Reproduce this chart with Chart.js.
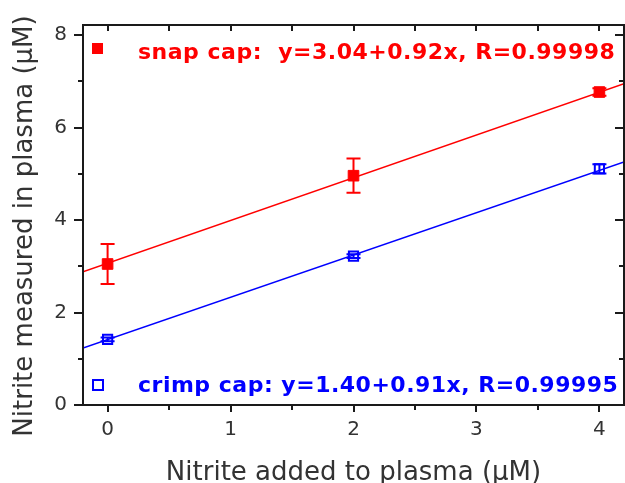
<!DOCTYPE html>
<html>
<head>
<meta charset="utf-8">
<script src="https://cdn.jsdelivr.net/npm/chart.js@4.4.1/dist/chart.umd.min.js"></script>
<style>
  body { margin: 0; background: #fff; }
  canvas { display: block; }
</style>
</head>
<body>
<canvas id="nitriteChart" width="625" height="483"></canvas>
<script>
// values
const addedNitrite = [0, 2, 4];
const snapMeasured = [3.05, 4.96, 6.77];
const snapError = [0.43, 0.37, 0.08];
const crimpMeasured = [1.42, 3.22, 5.11];
const crimpError = [0.04, 0.04, 0.1];

// fit lines, ends at the plot edges
const fitX = [-0.2, 4.2];
const snapFitY = [2.88, 6.95];
const crimpFitY = [1.23, 5.26];

const xTicks = [0, 1, 2, 3, 4];
const xMinorTicks = [0.5, 1.5, 2.5, 3.5];
const yTicks = [0, 2, 4, 6, 8];
const yMinorTicks = [1, 3, 5, 7];

const snapLabel = "snap cap:  y=3.04+0.92x, R=0.99998";
const crimpLabel = "crimp cap: y=1.40+0.91x, R=0.99995";
const xTitle = "Nitrite added to plasma (\u00b5M)";
const yTitle = "Nitrite measured in plasma (\u00b5M)";

const red = "#ff0000";
const blue = "#0000ff";

function toPoints(xs, ys) {
    return xs.map((x, i) => ({ x: x, y: ys[i] }));
}

// error bars under the markers
const errorBars = {
    id: "errorBars",
    beforeDatasetsDraw(chart) {
        const ctx = chart.ctx;
        const x = chart.scales.x;
        const y = chart.scales.y;
        chart.data.datasets.forEach((ds) => {
            if (!ds.errors) return;
            ctx.save();
            ctx.strokeStyle = ds.borderColor;
            ctx.lineWidth = 2;
            ds.data.forEach((p, i) => {
                const px = x.getPixelForValue(p.x);
                const top = y.getPixelForValue(p.y + ds.errors[i]);
                const bot = y.getPixelForValue(p.y - ds.errors[i]);
                ctx.beginPath();
                ctx.moveTo(px, top);
                ctx.lineTo(px, bot);
                ctx.moveTo(px - 7, top);
                ctx.lineTo(px + 7, top);
                ctx.moveTo(px - 7, bot);
                ctx.lineTo(px + 7, bot);
                ctx.stroke();
            });
            ctx.restore();
        });
    }
};

// box frame with ticks, in and out like the original
const frame = {
    id: "frame",
    afterDatasetsDraw(chart) {
        const ctx = chart.ctx;
        const a = chart.chartArea;
        const x = chart.scales.x;
        const y = chart.scales.y;
        ctx.save();
        ctx.strokeStyle = "#1a1a1a";
        ctx.lineWidth = 2;
        ctx.strokeRect(a.left, a.top, a.right - a.left, a.bottom - a.top);
        ctx.beginPath();
        xTicks.concat(xMinorTicks).forEach((v) => {
            const px = Math.round(x.getPixelForValue(v));
            const len = xTicks.includes(v) ? 7 : 5;
            ctx.moveTo(px, a.bottom);
            ctx.lineTo(px, a.bottom + len);
            ctx.moveTo(px, a.top);
            ctx.lineTo(px, a.top + 6);
        });
        yTicks.concat(yMinorTicks).forEach((v) => {
            const py = Math.round(y.getPixelForValue(v));
            const len = yTicks.includes(v) ? 9 : 5;
            ctx.moveTo(a.left, py);
            ctx.lineTo(a.left - len, py);
            ctx.moveTo(a.right, py);
            ctx.lineTo(a.right - len, py);
        });
        ctx.stroke();

        // legend text inside the plot
        ctx.font = "bold 22px 'DejaVu Sans'";
        ctx.letterSpacing = "0.5px";
        ctx.textBaseline = "alphabetic";
        ctx.fillStyle = red;
        ctx.fillRect(a.left + 9, 43, 11, 11);
        ctx.fillText(snapLabel, a.left + 55, 59);
        ctx.strokeStyle = blue;
        ctx.strokeRect(a.left + 10, 380, 10, 10);
        ctx.fillStyle = blue;
        ctx.fillText(crimpLabel, a.left + 55, 392);

        // y title, set a bit below the middle as in the original
        ctx.letterSpacing = "0px";
        ctx.font = "26px 'DejaVu Sans'";
        ctx.fillStyle = "#333";
        ctx.textAlign = "center";
        ctx.translate(32, 226);
        ctx.rotate(-Math.PI / 2);
        ctx.fillText(yTitle, 0, 0);
        ctx.restore();
    }
};

const ctx = document.getElementById("nitriteChart").getContext("2d");
new Chart(ctx, {
    type: "scatter",
    data: {
        datasets: [
            {
                label: "snap cap fit",
                data: toPoints(fitX, snapFitY),
                showLine: true,
                borderColor: red,
                borderWidth: 1.5,
                pointRadius: 0
            },
            {
                label: "crimp cap fit",
                data: toPoints(fitX, crimpFitY),
                showLine: true,
                borderColor: blue,
                borderWidth: 1.5,
                pointRadius: 0
            },
            {
                label: "snap cap",
                data: toPoints(addedNitrite, snapMeasured),
                errors: snapError,
                pointStyle: "rect",
                pointRadius: 7.5,
                backgroundColor: red,
                borderColor: red,
                borderWidth: 1
            },
            {
                label: "crimp cap",
                data: toPoints(addedNitrite, crimpMeasured),
                errors: crimpError,
                pointStyle: "rect",
                pointRadius: 6.5,
                backgroundColor: "rgba(0,0,0,0)",
                borderColor: blue,
                borderWidth: 2
            }
        ]
    },
    options: {
        responsive: false,
        animation: false,
        devicePixelRatio: 1,
        layout: {
            autoPadding: false,
            padding: { top: 25, right: 1, left: 0, bottom: 0 }
        },
        plugins: {
            legend: { display: false },
            tooltip: { enabled: false }
        },
        scales: {
            x: {
                type: "linear",
                min: -0.2,
                max: 4.2,
                afterBuildTicks: (s) => { s.ticks = xTicks.map((v) => ({ value: v })); },
                afterFit: (s) => {
                    s.height = 78;
                    s.paddingLeft = 0;
                    s.paddingRight = 0;
                },
                grid: { display: false, drawTicks: false },
                border: { display: false },
                ticks: {
                    padding: 13,
                    color: "#333",
                    font: { family: "'DejaVu Sans'", size: 20 }
                },
                title: {
                    display: true,
                    text: xTitle,
                    color: "#333",
                    font: { family: "'DejaVu Sans'", size: 26, lineHeight: 1 },
                    padding: { top: 0, bottom: -3 }
                }
            },
            y: {
                type: "linear",
                min: 0,
                max: 8.22,
                afterBuildTicks: (s) => { s.ticks = yTicks.map((v) => ({ value: v })); },
                afterFit: (s) => {
                    s.width = 83;
                    s.paddingTop = 0;
                    s.paddingBottom = 0;
                },
                grid: { display: false, drawTicks: false },
                border: { display: false },
                ticks: {
                    padding: 16,
                    color: "#333",
                    font: { family: "'DejaVu Sans'", size: 20 }
                }
            }
        }
    },
    plugins: [errorBars, frame]
});
</script>
</body>
</html>
